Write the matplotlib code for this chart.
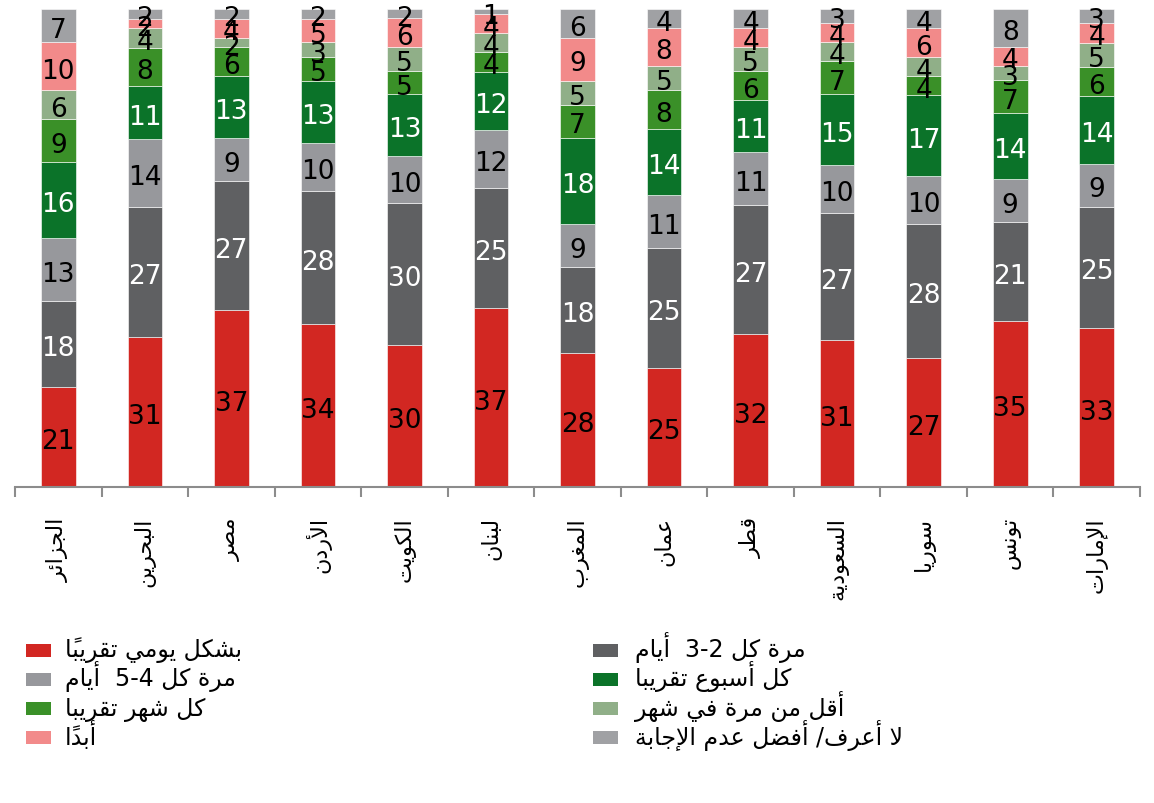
import numpy as np
import matplotlib
matplotlib.use('Agg')
from matplotlib import pyplot as plt
from matplotlib.patches import Rectangle

countries = ['الجزائر', 'البحرين', 'مصر', 'الأردن', 'الكويت', 'لبنان', 'المغرب',
             'عمان', 'قطر', 'السعودية', 'سوريا', 'تونس', 'الإمارات']

daily = [21, 31, 37, 34, 30, 37, 28, 25, 32, 31, 27, 35, 33]
days_2_3 = [18, 27, 27, 28, 30, 25, 18, 25, 27, 27, 28, 21, 25]
days_4_5 = [13, 14, 9, 10, 10, 12, 9, 11, 11, 10, 10, 9, 9]
weekly = [16, 11, 13, 13, 13, 12, 18, 14, 11, 15, 17, 14, 14]
monthly = [9, 8, 6, 5, 5, 4, 7, 8, 6, 7, 4, 7, 6]
less_monthly = [6, 4, 2, 3, 5, 4, 5, 5, 5, 4, 4, 3, 5]
never = [10, 2, 4, 5, 6, 4, 9, 8, 4, 4, 6, 4, 4]
dont_know = [7, 2, 2, 2, 2, 1, 6, 4, 4, 3, 4, 8, 3]

series_names = ['بشكل يومي تقريباً', 'مرة كل 2-3  أيام', 'مرة كل 4-5  أيام',
                'كل أسبوع تقريبا', 'كل شهر تقريبا', 'أقل من مرة في شهر',
                'أبداً', 'لا أعرف/ أفضل عدم الإجابة']
series = [daily, days_2_3, days_4_5, weekly, monthly, less_monthly, never, dont_know]
colors = ['#D22722', '#5F6062', '#97989C', '#0B7329', '#3A9028', '#90AF88',
          '#F28A8A', '#A0A1A4']
label_colors = ['black', 'white', 'black', 'white', 'black', 'black', 'black', 'black']

# --- minimal arabic shaping (matplotlib has no bidi / joining) ---
# base letter -> (first presentation form, number of forms)
FORMS = {
    0x0621: (0xFE80, 1), 0x0622: (0xFE81, 2), 0x0623: (0xFE83, 2),
    0x0624: (0xFE85, 2), 0x0625: (0xFE87, 2), 0x0626: (0xFE89, 4),
    0x0627: (0xFE8D, 2), 0x0628: (0xFE8F, 4), 0x0629: (0xFE93, 2),
    0x062A: (0xFE95, 4), 0x062B: (0xFE99, 4), 0x062C: (0xFE9D, 4),
    0x062D: (0xFEA1, 4), 0x062E: (0xFEA5, 4), 0x062F: (0xFEA9, 2),
    0x0630: (0xFEAB, 2), 0x0631: (0xFEAD, 2), 0x0632: (0xFEAF, 2),
    0x0633: (0xFEB1, 4), 0x0634: (0xFEB5, 4), 0x0635: (0xFEB9, 4),
    0x0636: (0xFEBD, 4), 0x0637: (0xFEC1, 4), 0x0638: (0xFEC5, 4),
    0x0639: (0xFEC9, 4), 0x063A: (0xFECD, 4), 0x0641: (0xFED1, 4),
    0x0642: (0xFED5, 4), 0x0643: (0xFED9, 4), 0x0644: (0xFEDD, 4),
    0x0645: (0xFEE1, 4), 0x0646: (0xFEE5, 4), 0x0647: (0xFEE9, 4),
    0x0648: (0xFEED, 2), 0x0649: (0xFEEF, 2), 0x064A: (0xFEF1, 4),
}
LAM_ALEF = {0x0622: 0xFEF5, 0x0623: 0xFEF7, 0x0625: 0xFEF9, 0x0627: 0xFEFB}


def shape_ar(text):
    clusters = []
    for ch in text:
        if 0x064B <= ord(ch) <= 0x0652 and clusters:
            clusters[-1][1] += ch
        else:
            clusters.append([ch, ''])
    # merge lam + alef
    merged = []
    i = 0
    while i < len(clusters):
        c = clusters[i]
        if (ord(c[0]) == 0x0644 and i + 1 < len(clusters)
                and ord(clusters[i + 1][0]) in LAM_ALEF and not c[1]):
            merged.append(['LA', clusters[i + 1][0], clusters[i + 1][1]])
            i += 2
        else:
            merged.append(['CH', c[0], c[1]])
            i += 1

    def n_forms(tok):
        if tok[0] == 'LA':
            return 2
        return FORMS.get(ord(tok[1]), (0, 0))[1]

    out = []
    for k, tok in enumerate(merged):
        nf = n_forms(tok)
        prev_joins = k > 0 and n_forms(merged[k - 1]) == 4 and nf >= 2
        next_joins = (k + 1 < len(merged) and nf == 4
                      and n_forms(merged[k + 1]) >= 2)
        if tok[0] == 'LA':
            g = chr(LAM_ALEF[ord(tok[1])] + (1 if prev_joins else 0))
        elif nf == 0:
            g = tok[1]
        else:
            base = FORMS[ord(tok[1])][0]
            if prev_joins and next_joins:
                g = chr(base + 3)
            elif prev_joins:
                g = chr(base + 1)
            elif next_joins:
                g = chr(base + 2)
            else:
                g = chr(base)
        out.append(g + tok[2])
    return ''.join(reversed(out))


plt.rcParams['font.family'] = ['DejaVu Sans']

W, H = 1154, 804
fig = plt.figure(figsize=(W / 100, H / 100), dpi=100)
ax = fig.add_axes([15 / W, 316 / H, 1125 / W, 478 / H])

x = np.arange(len(countries))
totals = np.sum(np.array(series), axis=0)
bottom = np.zeros(len(countries))
for vals, color, tcol in zip(series, colors, label_colors):
    pct = np.array(vals) / totals * 100
    ax.bar(x, pct, width=0.4, bottom=bottom, color=color,
           edgecolor='white', linewidth=0.4)
    for xi, b, h, v in zip(x, bottom, pct, vals):
        ax.annotate(str(v), (xi, b + h / 2), xytext=(0, -3),
                    textcoords='offset points', ha='center', va='center',
                    fontsize=19, color=tcol)
    bottom += pct

ax.set_xlim(-0.5, len(countries) - 0.5)
ax.set_ylim(0, 100)
ax.set_xticks(x, [shape_ar(c) for c in countries], rotation=90, fontsize=16)
ax.set_xticks(np.arange(-0.5, len(countries)), minor=True)
ax.tick_params(axis='x', which='major', length=0, pad=21)
ax.tick_params(axis='x', which='minor', length=7, width=1.5, color='#8C8C8C')
ax.set_yticks([])
for side in ['left', 'right', 'top']:
    ax.spines[side].set_visible(False)
ax.spines['bottom'].set_color('#8C8C8C')
ax.spines['bottom'].set_linewidth(1.5)

# legend: two columns, filled row by row
patch_x = [26, 593]
text_x = [65, 635]
for i, (name, color) in enumerate(zip(series_names, colors)):
    col, row = i % 2, i // 2
    yc = 651 + row * 29.3
    fig.add_artist(Rectangle((patch_x[col] / W, 1 - (yc + 6.5) / H), 25 / W, 13 / H,
                             transform=fig.transFigure, facecolor=color,
                             edgecolor='none'))
    fig.text(text_x[col] / W, 1 - (yc + 6) / H, shape_ar(name),
             ha='left', va='baseline', fontsize=17)

fig.savefig('out.png', dpi=100)
plt.close(fig)
